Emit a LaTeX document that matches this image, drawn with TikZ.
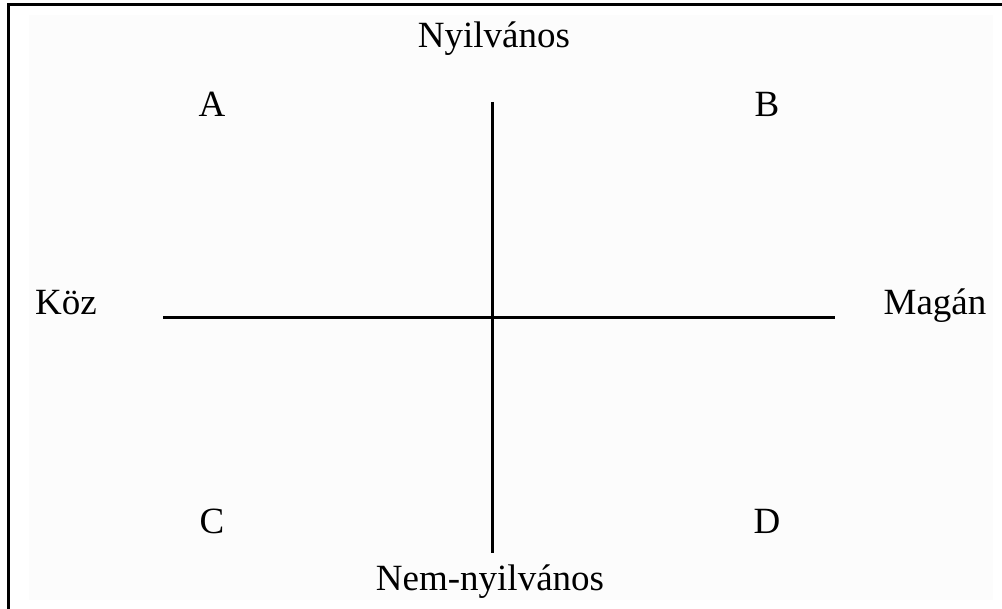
\documentclass[tikz,border=0pt]{standalone}
\usepackage{fontspec}
\setmainfont{Liberation Serif}
\begin{document}
\begin{tikzpicture}[x=1pt,y=-1pt,
  lbl/.style={inner sep=0pt,anchor=base,font=\fontsize{37}{40}\selectfont},
  axis/.style={line width=3pt,black},
  frame/.style={line width=3pt,black}]
\useasboundingbox (0,0) rectangle (1002,609);
\fill[white] (0,0) rectangle (1002,609);
\fill[fill={rgb,255:red,252;green,252;blue,252}] (29,15) rectangle (993,600);
\draw[frame] (8,609) -- (8,5) -- (1002,5);
% axis end points
\coordinate (top) at (492,102);
\coordinate (bot) at (492,553);
\coordinate (left) at (163,318);
\coordinate (right) at (835,318);
\draw[axis] (top) -- (bot);
\draw[axis] (left) -- (right);
% labels
\node[lbl] (ny) at (494,48) {Nyilvános};
\node[lbl] (nn) at (490,590) {Nem-nyilvános};
\node[lbl] (koz) at (66,315) {Köz};
\node[lbl] (mag) at (935,315) {Magán};
\node[lbl] (a) at (212,117) {A};
\node[lbl] (b) at (767,117) {B};
\node[lbl] (c) at (212,533) {C};
\node[lbl] (d) at (767,533) {D};
\end{tikzpicture}
\end{document}
